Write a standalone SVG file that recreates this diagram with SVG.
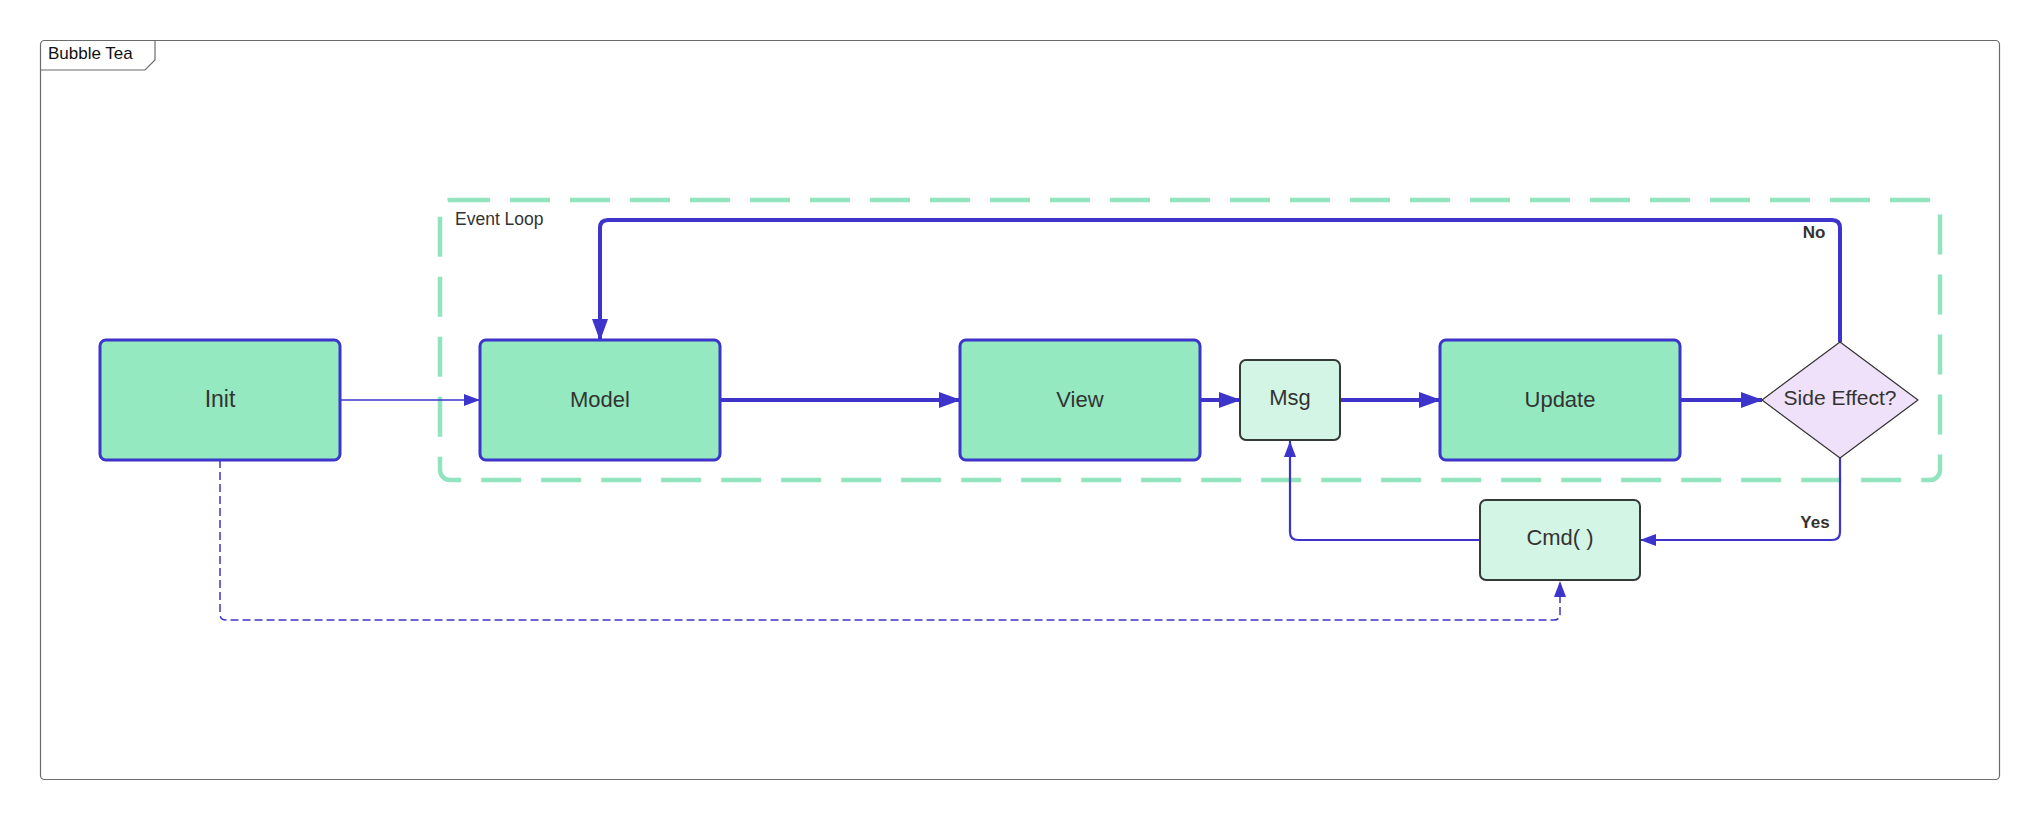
<svg xmlns="http://www.w3.org/2000/svg" width="2040" height="820" viewBox="0 0 2040 820">
<defs>
<style>
.lbl{font-family:"Liberation Sans",Arial,sans-serif;fill:#333333;text-anchor:middle;dominant-baseline:central}
.node{fill:#94e9c1;stroke:#3d34cc;stroke-width:3}
.sub{fill:#d3f5e5;stroke:#333a38;stroke-width:2}
.conn{fill:none;stroke:#3d34cc}
</style>
<marker id="ab" markerUnits="userSpaceOnUse" markerWidth="22" markerHeight="16" refX="21" refY="8" orient="auto"><path d="M0,0 L22,8 L0,16 z" fill="#3d34cc"/></marker>
<marker id="as" markerUnits="userSpaceOnUse" markerWidth="16" markerHeight="12" refX="16" refY="6" orient="auto"><path d="M0,0 L16,6 L0,12 z" fill="#3d34cc"/></marker>
</defs>
<rect width="2040" height="820" fill="#ffffff"/>
<g id="frame">
<rect x="40.5" y="40.5" width="1959" height="739" rx="4" fill="none" stroke="#6b6b6b" stroke-width="1.2"/>
<path d="M40.5,70 L145,70 L155,60 L155,40.5" fill="none" stroke="#6b6b6b" stroke-width="1.2"/>
<text x="48" y="53" font-family="Liberation Sans,Arial,sans-serif" font-size="17" fill="#111" dominant-baseline="central">Bubble Tea</text>
</g>
<g id="event-loop">
<rect x="440" y="200" width="1500" height="280" rx="10" fill="none" stroke="#91e4bd" stroke-width="4.5" stroke-dasharray="40 20"/>
<text x="455" y="219" font-family="Liberation Sans,Arial,sans-serif" font-size="17.5" fill="#333" dominant-baseline="central">Event Loop</text>
</g>
<g id="connectors">
<path class="conn" d="M340,400 L480,400" stroke-width="1.5" marker-end="url(#as)"/>
<path class="conn" d="M720,400 L960,400" stroke-width="4" marker-end="url(#ab)"/>
<path class="conn" d="M1200,400 L1240,400" stroke-width="4" marker-end="url(#ab)"/>
<path class="conn" d="M1340,400 L1440,400" stroke-width="4" marker-end="url(#ab)"/>
<path class="conn" d="M1680,400 L1762,400" stroke-width="4" marker-end="url(#ab)"/>
<path class="conn" d="M1840,342 L1840,228 Q1840,220 1832,220 L608,220 Q600,220 600,228 L600,340" stroke-width="4" marker-end="url(#ab)"/>
<path class="conn" d="M1840,458 L1840,532 Q1840,540 1832,540 L1640,540" stroke-width="2.2" marker-end="url(#as)"/>
<path class="conn" d="M1480,540 L1298,540 Q1290,540 1290,532 L1290,441" stroke-width="2.2" marker-end="url(#as)"/>
<path class="conn" d="M220,460 L220,614 Q220,620 226,620 L1554,620 Q1560,620 1560,614 L1560,581" stroke="#7a6fe0" stroke-width="1.5" stroke-dasharray="8 4" marker-end="url(#as)"/>
<text x="1814" y="232" font-family="Liberation Sans,Arial,sans-serif" font-size="17" font-weight="bold" fill="#333" text-anchor="middle" dominant-baseline="central">No</text>
<text x="1815" y="522" font-family="Liberation Sans,Arial,sans-serif" font-size="17" font-weight="bold" fill="#333" text-anchor="middle" dominant-baseline="central">Yes</text>
</g>
<g id="init"><rect class="node" x="100" y="340" width="240" height="120" rx="6"/><text class="lbl" x="220" y="399" font-size="23">Init</text></g>
<g id="model"><rect class="node" x="480" y="340" width="240" height="120" rx="6"/><text class="lbl" x="600" y="399" font-size="22">Model</text></g>
<g id="view"><rect class="node" x="960" y="340" width="240" height="120" rx="6"/><text class="lbl" x="1080" y="399" font-size="22">View</text></g>
<g id="msg"><rect class="sub" x="1240" y="360" width="100" height="80" rx="6"/><text class="lbl" x="1290" y="397" font-size="22">Msg</text></g>
<g id="update"><rect class="node" x="1440" y="340" width="240" height="120" rx="6"/><text class="lbl" x="1560" y="399" font-size="22">Update</text></g>
<g id="side-effect"><path d="M1840,342 L1918,400 L1840,458 L1762,400 Z" fill="#efe1f9" stroke="#333" stroke-width="1.2" stroke-linejoin="round"/><text class="lbl" x="1840" y="397" font-size="21">Side Effect?</text></g>
<g id="cmd"><rect class="sub" x="1480" y="500" width="160" height="80" rx="6"/><text class="lbl" x="1560" y="537" font-size="22">Cmd( )</text></g>
</svg>
